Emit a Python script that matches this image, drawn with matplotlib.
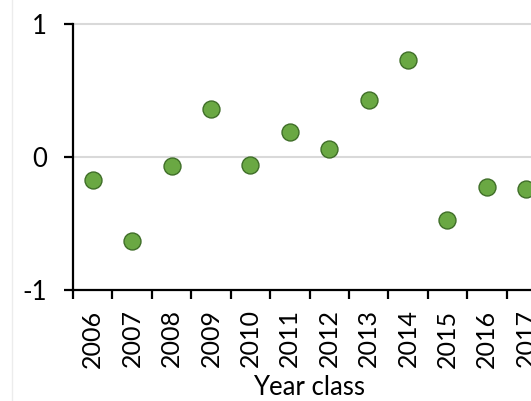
import numpy as np
import matplotlib.pyplot as plt
from matplotlib.lines import Line2D

years = ["2006", "2007", "2008", "2009", "2010", "2011",
         "2012", "2013", "2014", "2015", "2016", "2017"]
values = [-0.17, -0.63, -0.07, 0.36, -0.06, 0.19,
          0.06, 0.43, 0.73, -0.475, -0.225, -0.24]

plt.rcParams['font.family'] = ['Lato', 'DejaVu Sans']

fig = plt.figure(figsize=(5.31, 4.01), dpi=100)
# axes run past the right edge, the original chart is cut off there
ax = fig.add_axes([73 / 531, 1 - 290 / 401, 473 / 531, 266 / 401])

x = np.arange(len(years))
ax.axhline(0, color='#d9d9d9', lw=1.5, zorder=0)
ax.axhline(1, color='#d9d9d9', lw=1.5, zorder=0, clip_on=False)
ax.scatter(x, values, s=12.2 ** 2, color='#6aa843', edgecolor='#3f6e28',
           linewidth=1.0, zorder=3)

ax.set_xlim(-0.5, len(years) - 0.5)
ax.set_ylim(-1, 1)
ax.set_yticks([-1, 0, 1])
ax.set_yticklabels(["-1", "0", "1"])
ax.set_xticks(np.arange(len(years) + 1) - 0.5)
ax.set_xticklabels([])
ax.set_xticks(x, minor=True)
ax.set_xticklabels(years, minor=True, rotation=90)
ax.tick_params(axis='x', which='minor', length=0, pad=14, labelsize=18)
ax.tick_params(axis='x', which='major', length=6.5, width=1.6, direction='out')
ax.tick_params(axis='y', length=6.5, width=1.6, pad=12, labelsize=18.5)

for s in ['top', 'right']:
    ax.spines[s].set_visible(False)
for s in ['left', 'bottom']:
    ax.spines[s].set_linewidth(1.6)

ax.set_xlabel("Year class", fontsize=18.5)
ax.xaxis.set_label_coords(0.5, -0.318)

fig.add_artist(Line2D([12 / 531, 12 / 531], [0, 1], color='#ececec', lw=1))

fig.savefig("out.png", dpi=100)
